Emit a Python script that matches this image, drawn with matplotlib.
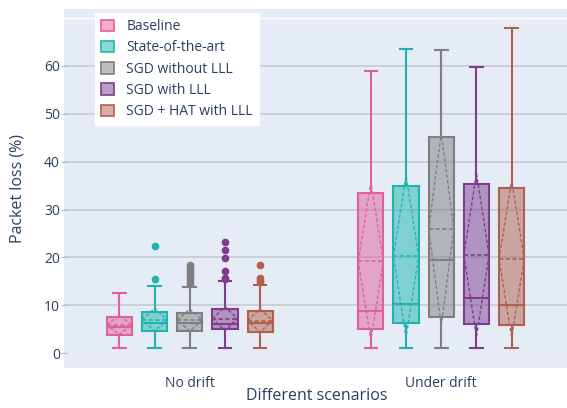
import numpy as np
import matplotlib
matplotlib.use("Agg")
import matplotlib.pyplot as plt
from matplotlib.patches import Patch

plt.rcParams["font.family"] = ["Open Sans", "DejaVu Sans"]

TEXT = "#2a3f5f"
BG = "#e5ecf6"
GRID = "#c5cad2"

scenarios = ["No drift", "Under drift"]
methods = ["Baseline", "State-of-the-art", "SGD without LLL",
           "SGD with LLL", "SGD + HAT with LLL"]
colors = ["#e0609a", "#1fb5ae", "#7f7f7f", "#7f3c8d", "#b0604e"]

# No drift
nd_low = [1.0, 1.0, 1.0, 1.0, 1.0]
nd_q1 = [3.8, 4.7, 4.6, 5.0, 4.5]
nd_med = [5.5, 6.4, 6.4, 6.1, 6.4]
nd_q3 = [7.5, 8.5, 8.4, 9.2, 8.7]
nd_high = [12.5, 14.1, 13.8, 15.0, 14.3]
nd_mean = [5.9, 7.0, 6.9, 7.2, 6.8]
nd_sd = [2.0, 2.4, 2.3, 2.5, 2.4]
nd_out = [[],
          [15.4, 22.3],
          [14.4, 14.9, 15.4, 15.9, 16.4, 16.9, 17.4, 17.9, 18.4],
          [15.4, 15.7, 17.1, 19.9, 21.6, 23.2],
          [14.8, 15.3, 15.7, 18.5]]

# Under drift
ud_low = [1.0, 1.0, 1.0, 1.0, 1.0]
ud_q1 = [5.1, 6.4, 7.6, 6.1, 5.8]
ud_med = [8.7, 10.3, 19.5, 11.5, 10.0]
ud_q3 = [33.4, 34.9, 45.1, 35.3, 34.6]
ud_high = [58.9, 63.5, 63.3, 59.8, 68.0]
ud_mean = [19.2, 20.2, 25.9, 20.5, 19.7]
ud_sd = [16.5, 16.9, 20.1, 17.1, 16.4]
ud_out = [[], [], [], [], []]

yticks = [0, 10, 20, 30, 40, 50, 60]


def main():
    fig = plt.figure(figsize=(5.67, 4.08), dpi=100)
    ax = fig.add_axes([64 / 567, 1 - 367.5 / 408, 503 / 567, 358.5 / 408])
    ax.set_facecolor(BG)
    for s in ax.spines.values():
        s.set_visible(False)

    ax.set_xlim(-0.5, 1.5)
    ax.set_ylim(-3.0, 71.9)
    for t in yticks[1:]:
        ax.axhline(t, color=GRID, lw=1.2, zorder=0)
    ax.axhline(70, color="white", lw=1.0, zorder=0)
    ax.axhline(0, color="#ececec", lw=1.6, zorder=0)

    width = 0.1
    spacing = 0.14
    data = [
        (nd_low, nd_q1, nd_med, nd_q3, nd_high, nd_mean, nd_sd, nd_out),
        (ud_low, ud_q1, ud_med, ud_q3, ud_high, ud_mean, ud_sd, ud_out),
    ]
    dash = (0, (2.5, 1.5))
    for gi, (lo, q1, med, q3, hi, mean, sd, out) in enumerate(data):
        for mi, c in enumerate(colors):
            x = gi + (mi - 2) * spacing
            stats = [dict(whislo=lo[mi], q1=q1[mi], med=med[mi], q3=q3[mi],
                          whishi=hi[mi], fliers=out[mi])]
            ax.bxp(stats, positions=[x], widths=width, patch_artist=True,
                   showfliers=True, manage_ticks=False,
                   boxprops=dict(facecolor=matplotlib.colors.to_rgba(c, 0.5),
                                 edgecolor=c, lw=1.5),
                   medianprops=dict(color=c, lw=1.5),
                   whiskerprops=dict(color=c, lw=1.5),
                   capprops=dict(color=c, lw=1.5),
                   capwidths=width * 0.5,
                   flierprops=dict(marker="o", markersize=4.5,
                                   markerfacecolor=c, markeredgecolor=c))
            m, s = mean[mi], sd[mi]
            ax.plot([x - width / 2, x + width / 2], [m, m], color=c,
                    lw=1.2, ls=dash, zorder=4)
            ax.plot([x - width / 2, x, x + width / 2, x, x - width / 2],
                    [m, m + s, m, m - s, m], color=c, lw=1.0, ls=dash,
                    zorder=4)

    ax.set_xticks([0, 1])
    ax.set_xticklabels(scenarios)
    ax.set_yticks(yticks)
    ax.tick_params(axis="x", length=0, pad=6, labelsize=10, labelcolor=TEXT)
    ax.tick_params(axis="y", length=4, direction="inout", color="#b8bcc4",
                   pad=1, labelsize=10, labelcolor=TEXT)

    ax.set_ylabel("Packet loss (%)", fontsize=11.5, color=TEXT)
    ax.yaxis.set_label_coords(-0.0775, 0.5)
    ax.set_xlabel("Different scenarios", fontsize=11.5, color=TEXT,
                  va="center")
    ax.xaxis.set_label_coords(0.503, -0.08)

    handles = [Patch(facecolor=matplotlib.colors.to_rgba(c, 0.5),
                     edgecolor=c, lw=1.2) for c in colors]
    leg = ax.legend(handles, methods, loc="upper left",
                    bbox_to_anchor=(0.062, 0.989), fontsize=10,
                    frameon=True, fancybox=False, handlelength=0.9,
                    handleheight=0.9, handletextpad=0.9, labelspacing=0.45,
                    borderpad=0.45, borderaxespad=0)
    leg.get_frame().set_facecolor("white")
    leg.get_frame().set_edgecolor("white")
    leg.get_frame().set_alpha(1.0)
    for t in leg.get_texts():
        t.set_color(TEXT)

    fig.savefig("out.png", dpi=100, facecolor="white")


if __name__ == "__main__":
    main()
